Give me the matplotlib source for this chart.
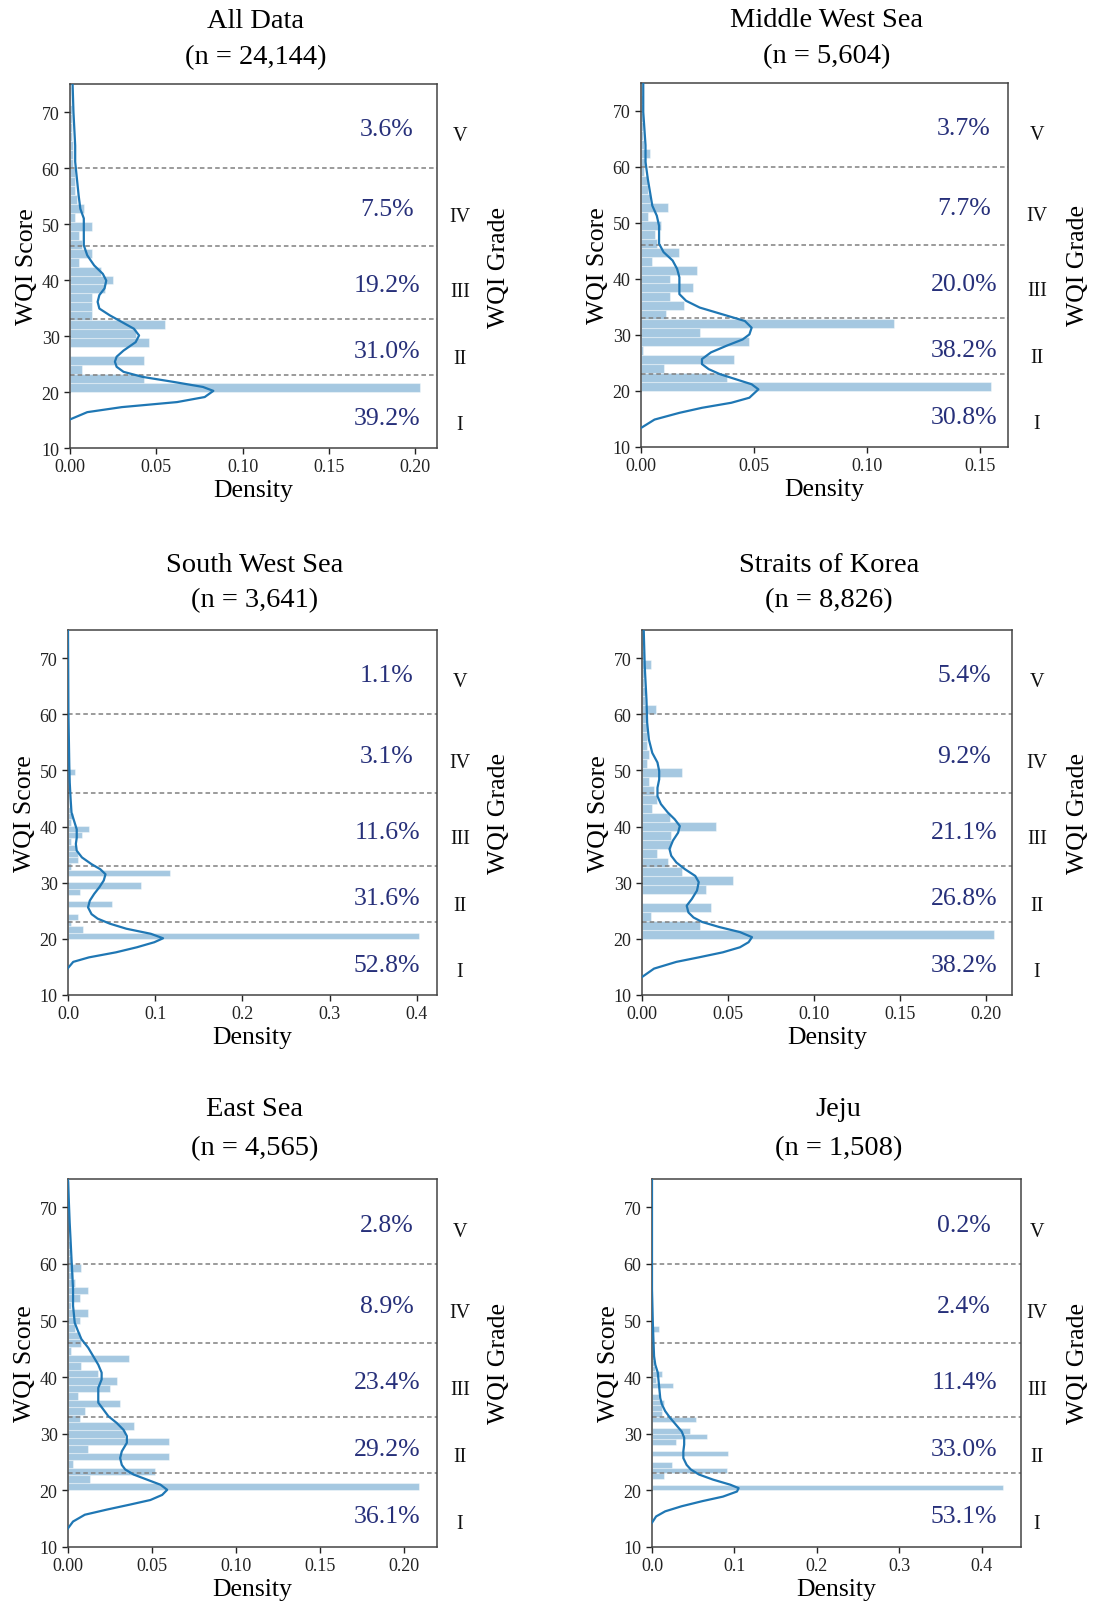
import numpy as np
import matplotlib
matplotlib.use("Agg")
import matplotlib.pyplot as plt
from matplotlib.ticker import MultipleLocator
from matplotlib.transforms import blended_transform_factory

plt.rcParams["font.family"] = ["Liberation Serif", "DejaVu Serif"]

W, H = 1094, 1606

grades = ["I", "II", "III", "IV", "V"]
grade_cuts = [23, 33, 46, 60]

names = ["All Data", "Middle West Sea", "South West Sea",
         "Straits of Korea", "East Sea", "Jeju"]
n_obs = ["24,144", "5,604", "3,641", "8,826", "4,565", "1,508"]

# share of samples per grade (I..V), %
pct_all = [39.2, 31.0, 19.2, 7.5, 3.6]
pct_mws = [30.8, 38.2, 20.0, 7.7, 3.7]
pct_sws = [52.8, 31.6, 11.6, 3.1, 1.1]
pct_sok = [38.2, 26.8, 21.1, 9.2, 5.4]
pct_es = [36.1, 29.2, 23.4, 8.9, 2.8]
pct_jeju = [53.1, 33.0, 11.4, 2.4, 0.2]

# histogram: first bin edge, bin width, density of each bin
bin_start = 20
bw_all, bw_mws, bw_sws, bw_sok, bw_es, bw_jeju = 1.6, 1.6, 1.12, 1.6, 1.333, 1.0

hist_all = [0.2024, 0.043, 0.007, 0.043, 0.0, 0.046, 0.038, 0.055, 0.013, 0.013,
            0.013, 0.020, 0.025, 0.018, 0.005, 0.013, 0.007, 0.005, 0.013, 0.003,
            0.008, 0.004, 0.003, 0.003, 0.003, 0.002, 0.002, 0.0015, 0.001, 0.001,
            0.001, 0.001, 0.0005, 0.0005]
hist_mws = [0.1548, 0.038, 0.010, 0.041, 0.001, 0.048, 0.026, 0.112, 0.011, 0.019,
            0.013, 0.023, 0.013, 0.025, 0.005, 0.017, 0.007, 0.006, 0.009, 0.003,
            0.012, 0.004, 0.003, 0.003, 0.0015, 0.002, 0.004, 0.0015, 0.001, 0.001,
            0.001, 0.001, 0.001, 0.0005]
hist_sws = [0.403, 0.017, 0.004, 0.012, 0.0, 0.050, 0.0, 0.014, 0.084, 0.0,
            0.117, 0.004, 0.012, 0.012, 0.009, 0.003, 0.016, 0.024, 0.003, 0.006,
            0.002, 0.001, 0.001, 0.001, 0.0, 0.001, 0.008, 0.001, 0.0005, 0.0005,
            0.0005, 0.0, 0.0005, 0.0, 0.0, 0.0005]
hist_sok = [0.205, 0.034, 0.005, 0.040, 0.0, 0.037, 0.053, 0.023, 0.015, 0.009,
            0.017, 0.017, 0.043, 0.016, 0.006, 0.009, 0.007, 0.004, 0.023, 0.003,
            0.004, 0.003, 0.003, 0.003, 0.003, 0.008, 0.002, 0.002, 0.001, 0.001,
            0.005, 0.001, 0.0005, 0.0005]
hist_es = [0.209, 0.013, 0.052, 0.003, 0.060, 0.012, 0.060, 0.034, 0.039, 0.007,
           0.010, 0.031, 0.006, 0.025, 0.029, 0.018, 0.008, 0.036, 0.002, 0.008,
           0.007, 0.004, 0.007, 0.012, 0.002, 0.007, 0.012, 0.004, 0.003, 0.008,
           0.002, 0.001, 0.001, 0.0005, 0.0005, 0.0005, 0.0005, 0.0005, 0.0005, 0.0005, 0.0005]
hist_jeju = [0.426, 0.0, 0.015, 0.091, 0.024, 0.0, 0.092, 0.0, 0.029, 0.067,
             0.046, 0.0, 0.053, 0.012, 0.012, 0.015, 0.008, 0.0, 0.026, 0.005,
             0.012, 0.004, 0.003, 0.002, 0.001, 0.001, 0.001, 0.001, 0.008, 0.0005]

# kde curves: score, density
kde_y_all = [15.1, 16.4, 17.3, 18.2, 19.1, 20.2, 20.9, 21.8, 22.7, 23.6, 24.5, 25.4,
             26.3, 27.4, 28.9, 30.1, 31.3, 32.5, 33.7, 34.9, 36.1, 37.3, 38.5, 39.9,
             41.1, 42.6, 44.4, 46.2, 48.0, 49.5, 51.0, 52.7, 55.1, 58.1, 61.1, 64.0,
             67.0, 70.0, 75.0]
kde_x_all = [0.0, 0.010, 0.030, 0.062, 0.078, 0.083, 0.077, 0.060, 0.042, 0.031, 0.027,
             0.026, 0.027, 0.031, 0.038, 0.040, 0.037, 0.030, 0.023, 0.017, 0.016, 0.017,
             0.020, 0.021, 0.019, 0.014, 0.010, 0.008, 0.008, 0.008, 0.008, 0.006, 0.005,
             0.004, 0.003, 0.003, 0.0025, 0.002, 0.0015]
kde_y_mws = [13.4, 14.9, 16.1, 17.0, 17.9, 18.8, 20.3, 21.2, 22.1, 23.0, 23.9, 24.8,
             25.7, 26.9, 28.1, 29.2, 30.1, 31.3, 32.5, 33.7, 34.9, 36.1, 37.3, 38.8,
             40.3, 41.8, 43.3, 44.8, 46.3, 47.7, 49.5, 51.3, 53.1, 55.5, 57.9, 60.9,
             63.9, 69.8, 75.0]
kde_x_mws = [0.0, 0.006, 0.017, 0.027, 0.040, 0.048, 0.052, 0.049, 0.042, 0.035, 0.030,
             0.027, 0.027, 0.031, 0.038, 0.045, 0.048, 0.049, 0.046, 0.036, 0.026, 0.020,
             0.017, 0.017, 0.017, 0.016, 0.014, 0.010, 0.008, 0.008, 0.008, 0.007, 0.005,
             0.004, 0.003, 0.002, 0.002, 0.001, 0.001]
kde_y_sws = [14.8, 15.9, 16.7, 17.6, 18.5, 19.4, 20.1, 20.9, 21.8, 22.7, 23.6, 24.4,
             25.6, 26.8, 28.0, 29.2, 30.4, 31.5, 32.4, 33.3, 34.5, 35.7, 36.9, 38.0,
             39.5, 41.0, 42.5, 44.9, 47.8, 50.8, 55.5, 60.2, 75.0]
kde_x_sws = [0.0, 0.006, 0.024, 0.055, 0.079, 0.099, 0.109, 0.095, 0.067, 0.048, 0.034,
             0.027, 0.023, 0.025, 0.030, 0.036, 0.041, 0.043, 0.037, 0.027, 0.016, 0.010,
             0.009, 0.010, 0.010, 0.007, 0.004, 0.003, 0.002, 0.0015, 0.001, 0.0005, 0.0]
kde_y_sok = [13.2, 14.7, 15.9, 16.7, 17.6, 18.5, 19.4, 20.3, 21.2, 22.1, 23.0, 23.8,
             24.7, 25.9, 27.1, 28.6, 30.1, 31.2, 32.4, 33.6, 34.8, 36.0, 37.5, 38.9,
             40.1, 41.3, 42.5, 44.0, 45.4, 46.9, 48.4, 49.9, 51.4, 53.1, 55.5, 58.5,
             62.6, 68.5, 75.0]
kde_x_sok = [0.0, 0.007, 0.020, 0.033, 0.047, 0.057, 0.062, 0.064, 0.057, 0.045, 0.035,
             0.030, 0.027, 0.026, 0.029, 0.032, 0.033, 0.031, 0.025, 0.020, 0.017, 0.016,
             0.018, 0.021, 0.022, 0.019, 0.015, 0.011, 0.009, 0.009, 0.010, 0.010, 0.009,
             0.006, 0.004, 0.003, 0.0026, 0.0016, 0.001]
kde_y_es = [13.3, 14.5, 15.7, 16.6, 17.5, 18.3, 19.2, 20.1, 21.0, 21.9, 22.8, 23.7,
            24.5, 25.7, 26.9, 28.4, 29.6, 30.7, 31.9, 33.1, 34.3, 35.5, 36.6, 38.1,
            39.6, 40.8, 42.2, 43.7, 45.2, 46.7, 48.1, 49.6, 52.6, 55.5, 58.5, 61.4,
            64.4, 67.3, 70.3, 75.0]
kde_x_es = [0.0, 0.003, 0.010, 0.023, 0.037, 0.049, 0.056, 0.059, 0.055, 0.047, 0.039,
            0.034, 0.032, 0.031, 0.032, 0.035, 0.035, 0.033, 0.029, 0.024, 0.021, 0.018,
            0.018, 0.018, 0.020, 0.020, 0.018, 0.015, 0.012, 0.008, 0.006, 0.004, 0.003,
            0.003, 0.0025, 0.002, 0.0015, 0.001, 0.0006, 0.0]
kde_y_jeju = [14.3, 15.4, 16.3, 17.2, 18.1, 18.9, 19.8, 20.4, 21.0, 21.9, 22.8, 23.7,
              24.5, 25.7, 26.9, 28.1, 29.3, 30.4, 31.6, 32.8, 34.0, 35.2, 36.3, 37.8,
              39.3, 40.8, 42.2, 43.7, 46.7, 49.6, 52.6, 55.5, 75.0]
kde_x_jeju = [0.0, 0.005, 0.016, 0.036, 0.061, 0.086, 0.103, 0.105, 0.095, 0.074, 0.057,
              0.047, 0.042, 0.038, 0.038, 0.039, 0.039, 0.036, 0.029, 0.022, 0.016, 0.012,
              0.010, 0.009, 0.008, 0.007, 0.004, 0.0025, 0.0017, 0.001, 0.0005, 0.0, 0.0]

panels = [
    (pct_all, bw_all, hist_all, kde_y_all, kde_x_all),
    (pct_mws, bw_mws, hist_mws, kde_y_mws, kde_x_mws),
    (pct_sws, bw_sws, hist_sws, kde_y_sws, kde_x_sws),
    (pct_sok, bw_sok, hist_sok, kde_y_sok, kde_x_sok),
    (pct_es, bw_es, hist_es, kde_y_es, kde_x_es),
    (pct_jeju, bw_jeju, hist_jeju, kde_y_jeju, kde_x_jeju),
]

# axes boxes in pixels: left, top, right, bottom
boxes = [(70, 85, 437, 449), (641, 84, 1008, 448),
         (68, 631, 437, 996), (642, 631, 1012, 996),
         (68, 1180, 437, 1548), (652, 1180, 1021, 1548)]
# title line offsets above each row's axes (px)
title_off = [(63.5, 27.5), (65.5, 30.5), (70.5, 31.5)]
xstep = [0.05, 0.05, 0.1, 0.05, 0.05, 0.1]
pct_y = [15.4, 27.3, 39.1, 52.6, 66.9]
grade_y = [14.2, 26.0, 37.9, 51.4, 65.8]

blue = "#1f77b4"
navy = "#27307a"

fig = plt.figure(figsize=(W / 100, H / 100), dpi=100)

for i, (pct, bw, dens, ky, kx) in enumerate(panels):
    l, t, r, b = boxes[i]
    ax = fig.add_axes([l / W, 1 - b / H, (r - l) / W, (b - t) / H])
    right_col = i % 2 == 1
    edges = bin_start + bw * np.arange(len(dens))

    ax.barh(edges, dens, height=bw, align="edge", color=blue, alpha=0.4,
            edgecolor="white", linewidth=0.8, zorder=1)
    for c in grade_cuts:
        ax.axhline(c, color="#808080", lw=1.1, ls=(0, (3, 2)), zorder=2)
    ax.plot(kx, ky, color=blue, lw=1.6, zorder=3)

    ax.set_ylim(10, 75)
    ax.set_yticks(range(10, 80, 10))
    ax.xaxis.set_major_locator(MultipleLocator(xstep[i]))
    ax.set_xlim(0, max(dens) * 1.05)
    ax.tick_params(labelsize=13, length=4, width=1, colors="#222222")
    for s in ax.spines.values():
        s.set_color("#444444")
        s.set_linewidth(1.1)
    ax.set_xlabel("Density", fontsize=18.5, labelpad=2.5)
    ax.set_ylabel("WQI Score", fontsize=18.5, labelpad=2.5)

    tr = blended_transform_factory(fig.transFigure, ax.transData)
    px_pct = 964 if right_col else 387
    px_grade = 1037 if right_col else 460
    for k in range(5):
        ax.text(px_pct / W, pct_y[k], f"{pct[k]:.1f}%", transform=tr,
                ha="center", va="center", fontsize=18.5, color=navy)
        ax.text(px_grade / W, grade_y[k], grades[k], transform=tr,
                ha="center", va="center", fontsize=14.5, color="#111111")

    px_grade_lab = 1078 if right_col else 499
    fig.text(px_grade_lab / W, 1 - (t + b) / 2 / H, "WQI Grade", rotation=90,
             ha="center", va="center", fontsize=18.5)

    off1, off2 = title_off[i // 2]
    px_title = (l + r) / 2 + 2
    fig.text(px_title / W, 1 - (t - off1) / H, names[i], ha="center",
             va="center", fontsize=20.5)
    fig.text(px_title / W, 1 - (t - off2) / H, f"(n = {n_obs[i]})", ha="center",
             va="center", fontsize=20.5)

fig.savefig("out.png", dpi=100)
